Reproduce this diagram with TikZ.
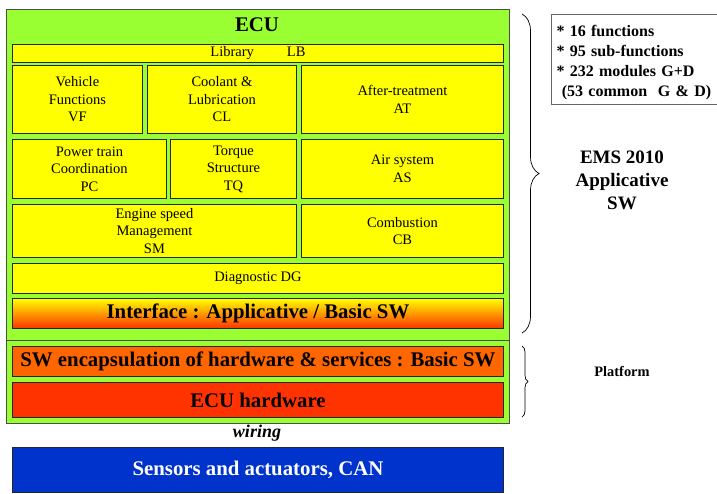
\documentclass[tikz,border=0pt]{standalone}
\usepackage{fontspec}
\setmainfont{Liberation Serif}
\usetikzlibrary{decorations.pathreplacing}
\definecolor{ecugreen}{HTML}{99FF33}
\definecolor{ylw}{HTML}{FFFF00}
\definecolor{orng}{HTML}{FF6600}
\definecolor{hwred}{HTML}{FF3300}
\definecolor{blu}{HTML}{0033CC}
\definecolor{midorng}{HTML}{FFB000}
\newcommand\modfont{\fontsize{14.5}{17.5}\selectfont}
\newcommand\layerfont{\fontsize{20.8}{24}\selectfont\bfseries}
\tikzset{
  modbox/.style={draw=black!85, line width=0.9pt, inner sep=0pt, anchor=north west, align=center, font=\modfont, fill=ylw},
  layerbox/.style={draw=black!85, line width=0.9pt, inner sep=0pt, anchor=north west, align=center, font=\layerfont},
  ecuframe/.style={draw=black!70, line width=0.8pt, fill=ecugreen, anchor=north west, inner sep=0pt},
  brc/.style={draw=black, line width=0.7pt, decorate}
}
\begin{document}
\begin{tikzpicture}[x=1pt,y=-1pt]
\useasboundingbox (0,0) rectangle (717,493);
% ECU frames
\node[ecuframe, minimum width=503pt, minimum height=331pt] (ecu) at (6,9) {};
\node[ecuframe, minimum width=503pt, minimum height=83pt] (plat) at (6,340) {};
\node[font=\layerfont] (ecutitle) at (257,25) {ECU};
% applicative modules
\node[modbox, minimum width=491pt, minimum height=18pt] (lb) at (12,44) {Library\hspace{33pt}LB};
\node[modbox, minimum width=130pt, minimum height=68pt] (vf) at (12,65) {Vehicle\\Functions\\VF};
\node[modbox, minimum width=149pt, minimum height=68pt] (cl) at (147,65) {Coolant \&\\Lubrication\\CL};
\node[modbox, minimum width=202pt, minimum height=68pt] (at) at (301,65) {After-treatment\\AT};
\node[modbox, minimum width=154pt, minimum height=59pt] (pc) at (12,139) {Power train\\Coordination\\PC};
\node[modbox, minimum width=126pt, minimum height=59pt] (tq) at (170,139) {Torque\\Structure\\TQ};
\node[modbox, minimum width=202pt, minimum height=59pt] (as) at (301,139) {Air system\\AS};
\node[modbox, minimum width=284pt, minimum height=53pt] (sm) at (12,204) {Engine speed\\Management\\SM};
\node[modbox, minimum width=202pt, minimum height=53pt] (cb) at (301,204) {Combustion\\CB};
\node[modbox, minimum width=491pt, minimum height=30pt] (dg) at (12,263) {Diagnostic DG};
\node[layerbox, top color=ylw, middle color=midorng, bottom color=hwred, minimum width=491pt, minimum height=30pt] (if) at (12,298) {Interface : Applicative / Basic SW};
% platform
\node[layerbox, fill=orng, minimum width=491pt, minimum height=30pt] (swe) at (12,346) {SW encapsulation of hardware \& services : Basic SW};
\node[layerbox, fill=hwred, minimum width=491pt, minimum height=35pt] (hw) at (12,382) {ECU hardware};
% wiring and sensors
\node[font=\fontsize{18}{21}\selectfont\bfseries\itshape] (wiring) at (257,433) {wiring};
\node[layerbox, fill=blu, text=white, minimum width=491pt, minimum height=45pt] (sens) at (12,447) {Sensors and actuators, CAN};
% right side
\node[draw=black!60, line width=1pt, fill=white, anchor=north west, inner xsep=5pt, inner ysep=0pt,
      text width=156pt, minimum height=90pt, align=left, font=\fontsize{16}{20}\selectfont\bfseries] (stats) at (551,14)
  {\rule{0pt}{17pt}* 16 functions\\[0pt]* 95 sub-functions\\[0pt]* 232 modules G+D\\[0pt]\ (53~common~~G~\&~D)};
\coordinate (b1top) at (522,14);
\coordinate (b1bot) at (522,333);
\coordinate (b2top) at (522,346);
\coordinate (b2bot) at (522,417);
\draw[brc, decoration={brace, amplitude=17pt}] (b1top) -- (b1bot);
\draw[brc, decoration={brace, amplitude=6pt}] (b2top) -- (b2bot);
\node[align=center, font=\fontsize{19}{23}\selectfont\bfseries] (ems) at (622,180) {EMS 2010\\Applicative\\SW};
\node[font=\fontsize{14.4}{17}\selectfont\bfseries] (platform) at (622,371) {Platform};
\end{tikzpicture}
\end{document}
